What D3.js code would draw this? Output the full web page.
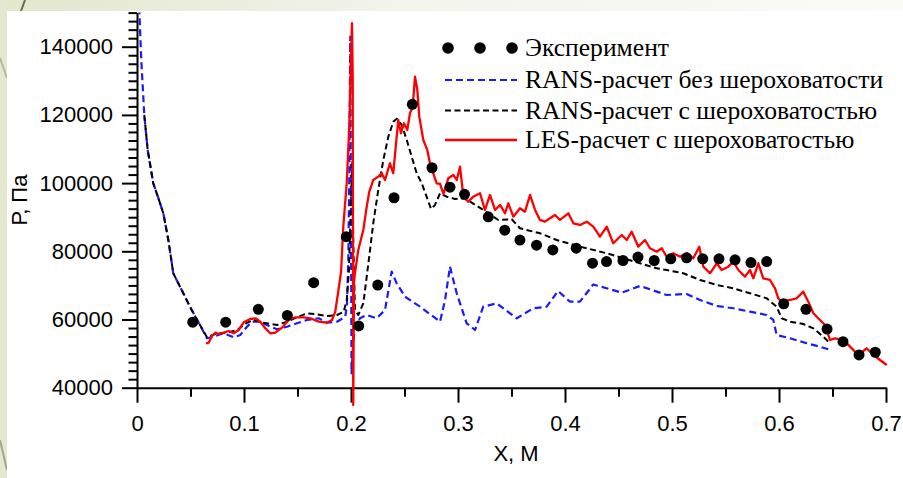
<!DOCTYPE html>
<html>
<head>
<meta charset="utf-8">
<script src="https://cdn.jsdelivr.net/npm/d3@7"></script>
<style>
  html, body { margin: 0; padding: 0; background: #ffffff; }
  svg { display: block; }
</style>
</head>
<body>
<svg id="chart" width="903" height="478"></svg>
<script>
// Static pressure along the wall: experiment vs. RANS and LES computations.

// Axis ticks
const xMajorTicks = [0, 0.1, 0.2, 0.3, 0.4, 0.5, 0.6, 0.7];
const xMinorTicks = [0.05, 0.15, 0.25, 0.35, 0.45, 0.55, 0.65];
const yMajorTicks = [40000, 60000, 80000, 100000, 120000, 140000];

// Legend labels
const legendLabels = [
  "Эксперимент",
  "RANS-расчет без шероховатости",
  "RANS-расчет с шероховатостью",
  "LES-расчет с шероховатостью"
];

// Experiment: x [m], P [Pa]
const expX = [0.0521, 0.0829, 0.1134, 0.1405, 0.1651, 0.1956, 0.2072, 0.2250, 0.2402, 0.2573,
  0.2757, 0.2925, 0.3061, 0.3283, 0.3437, 0.3579, 0.3734, 0.3886, 0.4105, 0.4257,
  0.4388, 0.4542, 0.4682, 0.4834, 0.4988, 0.5137, 0.5287, 0.5439, 0.5589, 0.5738,
  0.5885, 0.6044, 0.6252, 0.6449, 0.6598, 0.6748, 0.6900];
const expP = [59200, 59200, 63000, 61200, 70800, 84300, 58100, 70100, 95700, 123100,
  104500, 98800, 96700, 90100, 86200, 83300, 81800, 80400, 80900, 76500,
  77000, 77300, 78300, 77300, 77800, 78100, 77800, 77800, 77500, 76700,
  77000, 64600, 63000, 57200, 53500, 49600, 50400];

// RANS without roughness: [x, P]
const ransSmooth = [
  [0.0012, 158000], [0.0040, 136100], [0.0068, 120000], [0.0100, 109700], [0.0152, 99950],
  [0.0196, 95930], [0.0246, 91150], [0.0293, 83320], [0.0339, 73550], [0.0402, 69620],
  [0.0511, 62790], [0.0589, 58390], [0.0654, 54490], [0.0717, 54960], [0.0810, 55960],
  [0.0904, 54780], [0.0965, 55460], [0.1028, 57890], [0.1075, 59360], [0.1152, 59360],
  [0.1246, 57890], [0.1308, 57130], [0.1402, 57890], [0.1495, 58890], [0.1589, 59860],
  [0.1698, 60360], [0.1776, 59060], [0.1869, 59360], [0.1947, 60820], [0.1963, 64750],
  [0.1975, 77450], [0.1984, 101890], [0.1993, 142950], [0.2000, 92120], [0.2005, 44220],
  [0.2019, 52520], [0.2037, 57890], [0.2084, 60360], [0.2147, 61320], [0.2240, 60360],
  [0.2318, 62790], [0.2380, 74020], [0.2427, 70620], [0.2505, 66690], [0.2645, 63760],
  [0.2832, 59360], [0.2879, 65720], [0.2925, 75490], [0.2988, 67690], [0.3081, 58890],
  [0.3159, 56920], [0.3236, 63760], [0.3362, 64750], [0.3549, 60350], [0.3704, 63290],
  [0.3829, 63760], [0.3935, 68360], [0.4047, 65220], [0.4140, 65220], [0.4264, 70270],
  [0.4390, 69150], [0.4530, 67860], [0.4701, 69830], [0.4794, 68860], [0.4950, 67190],
  [0.5137, 67480], [0.5262, 65720], [0.5418, 63960], [0.5573, 63290], [0.5729, 62290],
  [0.5885, 61320], [0.5947, 59860], [0.5978, 55460], [0.6103, 54490], [0.6259, 53020],
  [0.6383, 52030], [0.6461, 51260]
];

// RANS with roughness: [x, P]
const ransRough = [
  [0.0068, 120000], [0.0100, 109700], [0.0152, 99950], [0.0196, 95930], [0.0246, 91150],
  [0.0293, 83320], [0.0339, 73550], [0.0402, 69620], [0.0511, 62790], [0.0589, 58390],
  [0.0654, 54780], [0.0748, 55960], [0.0841, 56130], [0.0935, 56920], [0.1028, 59060],
  [0.1091, 59860], [0.1184, 59060], [0.1308, 58390], [0.1402, 59360], [0.1495, 60650],
  [0.1589, 61820], [0.1682, 61530], [0.1776, 61030], [0.1869, 61320], [0.1932, 62290],
  [0.1960, 65720], [0.1981, 74520], [0.2000, 95050], [0.2013, 106770], [0.2021, 83320],
  [0.2037, 62790], [0.2068, 61320], [0.2115, 64750], [0.2147, 72560], [0.2178, 80390],
  [0.2208, 88220], [0.2255, 97990], [0.2302, 106770], [0.2349, 113620], [0.2395, 118020],
  [0.2427, 118870], [0.2474, 117050], [0.2521, 112650], [0.2567, 107750], [0.2614, 102880],
  [0.2661, 99950], [0.2707, 96020], [0.2748, 92410], [0.2785, 93590], [0.2832, 97020],
  [0.2894, 96020], [0.2972, 95350], [0.3065, 95550], [0.3236, 92120], [0.3377, 89190],
  [0.3502, 89390], [0.3579, 86750], [0.3766, 85290], [0.3922, 83320], [0.4140, 81360],
  [0.4390, 79420], [0.4701, 76490], [0.4857, 75020], [0.4950, 74520], [0.5106, 73550],
  [0.5262, 71590], [0.5418, 70120], [0.5573, 69150], [0.5729, 67690], [0.5885, 66220],
  [0.5978, 63760], [0.6025, 60360], [0.6103, 59360], [0.6227, 58680], [0.6321, 57420],
  [0.6414, 54960], [0.6477, 53020]
];

// LES with roughness: [x, P]
const lesRough = [
  [0.0645, 53020], [0.0670, 53200], [0.0701, 55160], [0.0732, 56130], [0.0766, 55750],
  [0.0810, 56130], [0.0857, 56630], [0.0904, 55960], [0.0950, 56920], [0.0997, 59180],
  [0.1059, 60150], [0.1106, 60350], [0.1152, 59360], [0.1199, 57420], [0.1246, 55960],
  [0.1293, 56130], [0.1355, 57600], [0.1418, 59860], [0.1479, 60650], [0.1558, 60650],
  [0.1620, 60350], [0.1698, 59360], [0.1776, 59060], [0.1822, 59860], [0.1853, 62290],
  [0.1883, 68660], [0.1907, 73930], [0.1928, 87220], [0.1960, 99950], [0.1984, 116550],
  [0.2000, 136110], [0.2009, 146880], [0.2016, 131220], [0.2021, 34930], [0.2028, 71590],
  [0.2068, 80390], [0.2115, 86250], [0.2147, 93090], [0.2171, 97490], [0.2208, 100900],
  [0.2255, 101890], [0.2287, 102880], [0.2318, 100900], [0.2364, 105820], [0.2395, 102880],
  [0.2421, 111680], [0.2442, 118520], [0.2467, 114610], [0.2495, 117550], [0.2526, 115580],
  [0.2551, 120480], [0.2577, 122420], [0.2598, 131220], [0.2620, 127320], [0.2638, 119490],
  [0.2676, 112650], [0.2713, 109700], [0.2738, 105820], [0.2769, 102880], [0.2801, 99950],
  [0.2832, 99750], [0.2864, 96810], [0.2909, 101420], [0.2956, 102390], [0.2988, 100920],
  [0.3019, 104820], [0.3050, 96020], [0.3096, 94550], [0.3143, 96020], [0.3206, 97020],
  [0.3252, 92120], [0.3299, 96520], [0.3346, 92120], [0.3393, 93590], [0.3439, 91150],
  [0.3470, 94080], [0.3517, 90150], [0.3579, 92620], [0.3626, 91620], [0.3673, 96520],
  [0.3720, 92120], [0.3766, 89190], [0.3813, 88690], [0.3860, 89690], [0.3907, 90650],
  [0.3953, 89190], [0.4031, 91150], [0.4078, 88220], [0.4140, 87720], [0.4203, 88690],
  [0.4264, 87220], [0.4327, 84290], [0.4390, 87220], [0.4451, 82350], [0.4530, 84790],
  [0.4577, 83320], [0.4623, 85750], [0.4685, 81360], [0.4748, 83320], [0.4794, 80890],
  [0.4857, 79890], [0.4904, 80890], [0.4950, 78420], [0.5012, 79420], [0.5075, 78420],
  [0.5137, 79420], [0.5199, 77950], [0.5255, 81360], [0.5293, 75490], [0.5355, 73550],
  [0.5418, 76490], [0.5464, 74520], [0.5526, 75490], [0.5573, 76960], [0.5620, 74520],
  [0.5682, 72560], [0.5729, 74520], [0.5760, 72090], [0.5807, 76490], [0.5853, 72090],
  [0.5916, 71590], [0.5963, 69150], [0.5993, 66220], [0.6025, 65220], [0.6103, 65720],
  [0.6165, 66220], [0.6227, 68160], [0.6274, 65220], [0.6321, 61820], [0.6383, 59860],
  [0.6430, 58390], [0.6477, 53990], [0.6523, 54490], [0.6601, 53990], [0.6664, 52030],
  [0.6741, 49590], [0.6819, 51560], [0.6866, 50090], [0.6944, 48120], [0.7007, 46660]
];

const svg = d3.select("#chart");
const W = 903, H = 478;

// Slide background behind the white chart panel
const defs = svg.append("defs");
const grad = defs.append("linearGradient").attr("id", "topband")
  .attr("x1", "0%").attr("x2", "100%").attr("y1", "0%").attr("y2", "0%");
grad.append("stop").attr("offset", "0%").attr("stop-color", "#e2e7cd");
grad.append("stop").attr("offset", "45%").attr("stop-color", "#f3f4ec");
grad.append("stop").attr("offset", "100%").attr("stop-color", "#fbfbf8");
svg.append("rect").attr("width", W).attr("height", H).attr("fill", "url(#topband)");
svg.append("rect").attr("x", 0).attr("y", 0).attr("width", 7).attr("height", H).attr("fill", "#e3e8cf");
svg.append("path").attr("d", "M25,0 L21,11").attr("stroke", "#6f6a48").attr("stroke-width", 2).attr("fill", "none");
svg.append("path").attr("d", "M0,58 L7,78").attr("stroke", "#b9b89c").attr("stroke-width", 2).attr("fill", "none");
svg.append("path").attr("d", "M0,440 L7,470").attr("stroke", "#a7a58a").attr("stroke-width", 2).attr("fill", "none");
svg.append("rect").attr("x", 7).attr("y", 11).attr("width", W - 7).attr("height", H - 11).attr("fill", "#ffffff");

// Scales
const x = d3.scaleLinear().domain([0, 0.7]).range([137, 886]);
const y = d3.scaleLinear().domain([40000, 150000]).range([387.7, 12.6]);

const tickFont = "'Liberation Sans', Arial, sans-serif";

// X axis
svg.append("g").attr("transform", `translate(0,${y(40000)})`)
  .call(d3.axisBottom(x).tickValues(xMajorTicks).tickSize(15).tickSizeOuter(0).tickPadding(13)
    .tickFormat(d => d === 0 ? "0" : d3.format(".1f")(d)));
svg.append("g").attr("transform", `translate(0,${y(40000)})`)
  .call(d3.axisBottom(x).tickValues(xMinorTicks).tickSize(9).tickSizeOuter(0).tickFormat(""))
  .select(".domain").remove();

// Y axis
const yMinorTicks = d3.range(40000, 150001, 2500).filter(v => v % 20000 !== 0);
svg.append("g").attr("transform", `translate(${x(0)},0)`)
  .call(d3.axisLeft(y).tickValues(yMajorTicks).tickSize(15).tickSizeOuter(0).tickPadding(9)
    .tickFormat(d3.format("d")));
svg.append("g").attr("transform", `translate(${x(0)},0)`)
  .call(d3.axisLeft(y).tickValues(yMinorTicks).tickSize(8.5).tickSizeOuter(0).tickFormat(""))
  .select(".domain").remove();

svg.selectAll(".domain").attr("stroke", "#000").attr("stroke-width", 2);
svg.selectAll(".tick line").attr("stroke", "#000").attr("stroke-width", 2);
svg.selectAll(".tick text").attr("fill", "#000")
  .style("font-family", tickFont).style("font-size", "22px");

// Axis titles
svg.append("text").attr("x", 516).attr("y", 461).attr("text-anchor", "middle")
  .style("font-family", tickFont).style("font-size", "22px").text("X, М");
svg.append("text").attr("transform", "translate(27,200) rotate(-90)").attr("text-anchor", "middle")
  .style("font-family", tickFont).style("font-size", "22px").text("Р, Па");

// Plot clip (open slightly below the axis, where the LES spike dips)
defs.append("clipPath").attr("id", "plotclip").append("rect")
  .attr("x", x(0)).attr("y", y(150000)).attr("width", x(0.7) - x(0) + 6).attr("height", y(40000) - y(150000) + 22);

const line = d3.line().x(d => x(d[0])).y(d => y(d[1]));
const plot = svg.append("g").attr("clip-path", "url(#plotclip)");

const styles = [
  { data: ransSmooth, color: "#1a1aff", width: 2.2, dash: "7,4" },
  { data: ransRough, color: "#000000", width: 2, dash: "6,3.5" },
  { data: lesRough, color: "#ff0000", width: 2.3, dash: null }
];
styles.forEach(s => {
  plot.append("path").datum(s.data).attr("d", line)
    .attr("fill", "none").attr("stroke", s.color).attr("stroke-width", s.width)
    .attr("stroke-dasharray", s.dash).attr("stroke-linejoin", "round");
});

// Experiment points
svg.append("g").selectAll("circle").data(expX.map((v, i) => [v, expP[i]])).join("circle")
  .attr("cx", d => x(d[0])).attr("cy", d => y(d[1])).attr("r", 5.5).attr("fill", "#000");

// Legend
const legend = svg.append("g");
const legendFont = "'Liberation Serif', 'Times New Roman', serif";
const rowY = [48, 80, 110.5, 140];
[448, 480, 512].forEach(cx => legend.append("circle").attr("cx", cx).attr("cy", rowY[0]).attr("r", 5.8).attr("fill", "#000"));
styles.forEach((s, i) => {
  legend.append("line").attr("x1", 445).attr("x2", 517).attr("y1", rowY[i + 1]).attr("y2", rowY[i + 1])
    .attr("stroke", s.color).attr("stroke-width", s.width).attr("stroke-dasharray", s.dash);
});
legendLabels.forEach((t, i) => {
  legend.append("text").attr("x", 525).attr("y", rowY[i] + 8).attr("fill", "#000")
    .style("font-family", legendFont).style("font-size", "25.6px").text(t);
});
</script>
</body>
</html>
